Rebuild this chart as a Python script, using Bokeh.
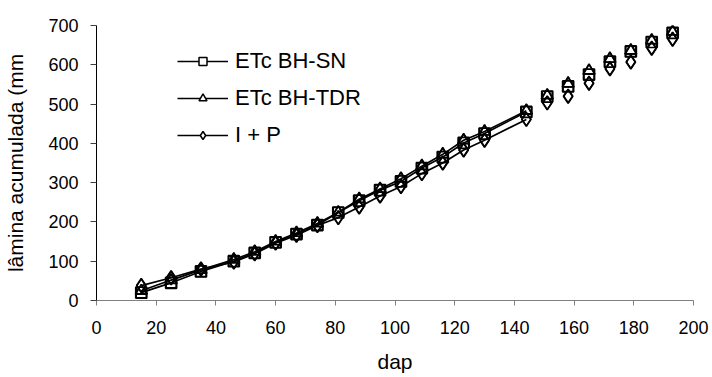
from bokeh.plotting import figure
from bokeh.models import Range1d, FixedTicker, Legend, LegendItem, ColumnDataSource
from bokeh.embed import file_html
from bokeh.resources import INLINE

# --- data ---
dap = [15, 25, 35, 46, 53, 60, 67, 74, 81, 88, 95, 102, 109, 116, 123, 130,
       144, 151, 158, 165, 172, 179, 186, 193]
etc_sn = [20, 45, 74, 100, 121, 148, 169, 192, 224, 254, 281, 303, 337, 365,
          401, 425, 480, 519, 545, 575, 608, 634, 658, 681]
etc_tdr = [25, 52, 78, 104, 124, 150, 172, 196, 224, 258, 284, 310, 342, 372,
           408, 430, 483, 522, 552, 585, 615, 636, 662, 684]
i_p = [38, 58, 80, 98, 119, 146, 166, 191, 211, 238, 266, 290, 323, 350,
       383, 408, 461, 503, 520, 553, 590, 607, 642, 665]
n_connected = 17  # points joined by a line (up to dap 144)

series_labels = ["ETc BH-SN", "ETc BH-TDR", "I + P"]
x_ticks = [0, 20, 40, 60, 80, 100, 120, 140, 160, 180, 200]
y_ticks = [0, 100, 200, 300, 400, 500, 600, 700]

FONT = "Liberation Sans"

p = figure(width=712, height=377,
           x_range=Range1d(0, 200), y_range=Range1d(0, 700),
           output_backend="svg", toolbar_location=None,
           min_border_left=96, min_border_right=19,
           min_border_top=25, min_border_bottom=77)
p.outline_line_color = None
p.xgrid.visible = False
p.ygrid.visible = False
p.background_fill_color = "white"
p.border_fill_color = "white"

# axes
p.xaxis.ticker = FixedTicker(ticks=x_ticks)
p.yaxis.ticker = FixedTicker(ticks=y_ticks)
for ax in (p.xaxis[0], p.yaxis[0]):
    ax.minor_tick_line_color = None
    ax.major_tick_in = 0
    ax.major_label_text_font = FONT
    ax.major_label_text_font_size = "18px"
    ax.major_label_text_color = "black"
    ax.axis_label_text_font = FONT
    ax.axis_label_text_font_size = "21px"
    ax.axis_label_text_font_style = "normal"
    ax.axis_label_text_color = "black"

p.xaxis.axis_line_color = "#808080"
p.xaxis.major_tick_line_color = "#808080"
p.xaxis.major_tick_out = 5
p.xaxis.major_label_standoff = 15
p.xaxis.axis_label = "dap"
p.xaxis.axis_label_standoff = 13

p.yaxis.axis_line_color = "black"
p.yaxis.major_tick_line_color = "#404040"
p.yaxis.major_tick_out = 6
p.yaxis.major_label_standoff = 12
p.yaxis.axis_label = "lâmina acumulada (mm"
p.yaxis.axis_label_standoff = 18

series = [(etc_sn, "square", 11, 10), (etc_tdr, "triangle", 11, 12), (i_p, "diamond", 14, 13)]

# pass 1: white-filled markers (used for the legend; lie under everything)
legend_markers = []
for vals, marker, size, lsize in series:
    src = ColumnDataSource(dict(x=dap, y=vals))
    legend_markers.append(p.scatter("x", "y", source=src, marker=marker, size=lsize,
                                    line_color="black", line_width=1.5,
                                    fill_color="white"))
# pass 2: lines
lines = []
for vals, marker, size, lsize in series:
    src = ColumnDataSource(dict(x=dap[:n_connected], y=vals[:n_connected]))
    lines.append(p.line("x", "y", source=src, line_color="black", line_width=1.7))
# pass 3: hollow outlines on top
for vals, marker, size, lsize in series:
    src = ColumnDataSource(dict(x=dap, y=vals))
    p.scatter("x", "y", source=src, marker=marker, size=size,
              line_color="black", line_width=1.7, fill_color=None)

items = [LegendItem(label=lab, renderers=[lr, mr])
         for lab, lr, mr in zip(series_labels, lines, legend_markers)]

legend = Legend(items=items, location=(81, 152), orientation="vertical",
                label_text_font=FONT, label_text_font_size="22px",
                label_text_color="black",
                glyph_width=51, glyph_height=20, label_standoff=7,
                spacing=11, padding=0, margin=0,
                border_line_color=None, background_fill_alpha=0)
p.add_layout(legend, "center")

open("out.html", "w").write(file_html(p, INLINE))
